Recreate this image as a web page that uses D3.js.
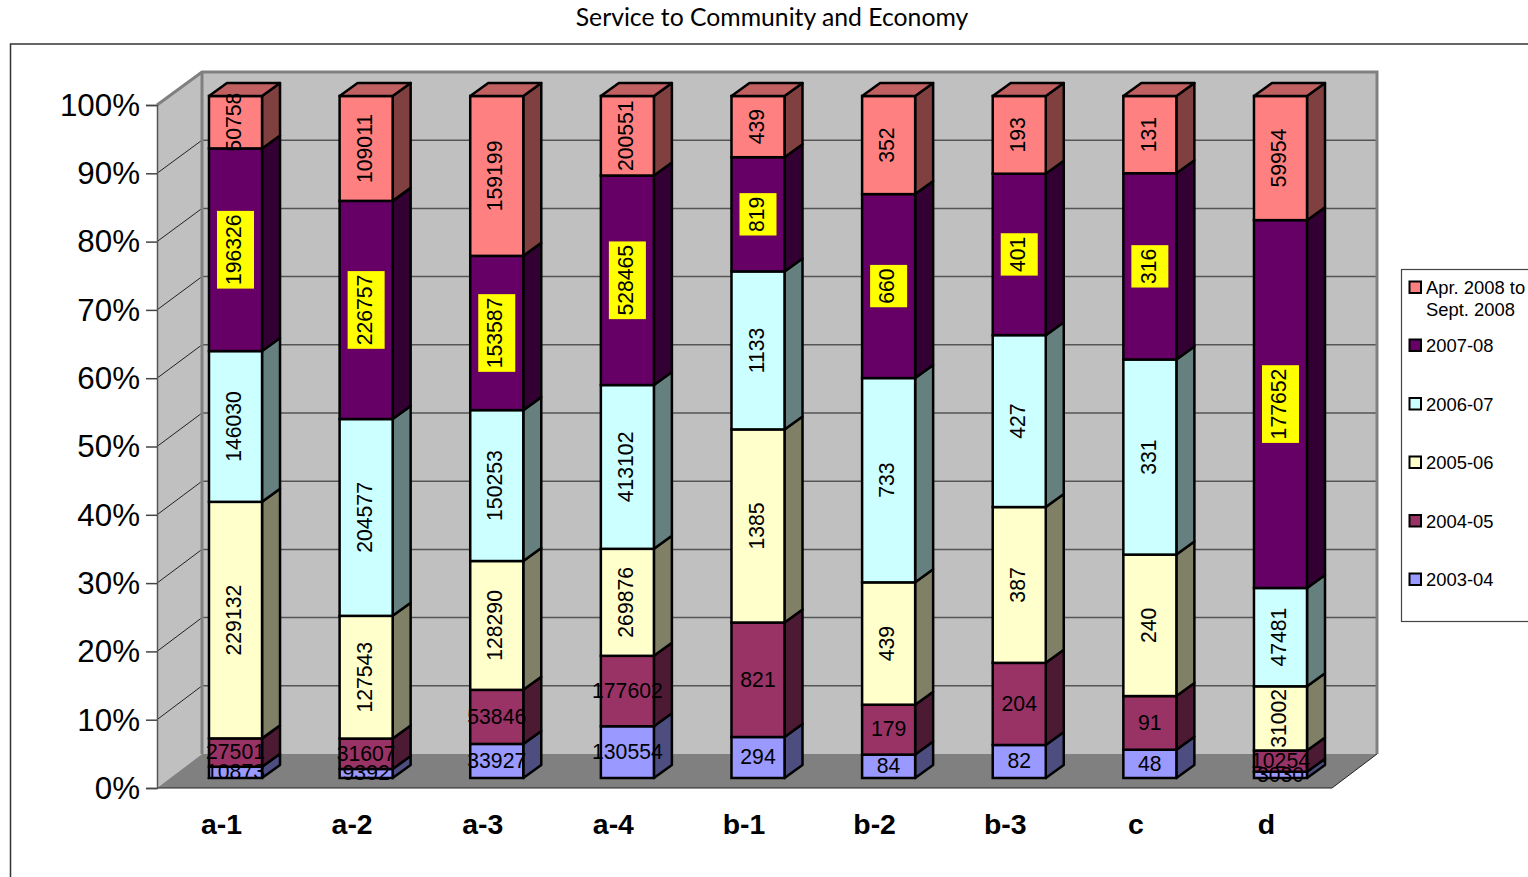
<!DOCTYPE html>
<html>
<head>
<meta charset="utf-8">
<script src="https://cdn.jsdelivr.net/npm/d3@7/dist/d3.min.js"></script>
<style>
  html, body { margin: 0; padding: 0; background: #fff; overflow: hidden; }
  svg { display: block; }
  text { font-family: "Liberation Sans", Arial, sans-serif; fill: #000; }
</style>
</head>
<body>
<svg id="chart" width="1528" height="877"></svg>
<script>
// Stacked share of each category across the reporting periods
const categories = ["a-1", "a-2", "a-3", "a-4", "b-1", "b-2", "b-3", "c", "d"];
const seriesNames = ["2003-04", "2004-05", "2005-06", "2006-07", "2007-08", "Apr. 2008 to Sept. 2008"];
const v2003 = [10873, 9392, 33927, 130554, 294, 84, 82, 48, 3030];
const v2004 = [27501, 31607, 53846, 177602, 821, 179, 204, 91, 10254];
const v2005 = [229132, 127543, 128290, 269876, 1385, 439, 387, 240, 31002];
const v2006 = [146030, 204577, 150253, 413102, 1133, 733, 427, 331, 47481];
const v2007 = [196326, 226757, 153587, 528465, 819, 660, 401, 316, 177652];
const v2008 = [50758, 109011, 159199, 200551, 439, 352, 193, 131, 59954];
const seriesValues = [v2003, v2004, v2005, v2006, v2007, v2008];
const faceColors = ["#9999FF", "#993366", "#FFFFCC", "#CCFFFF", "#660066", "#FF8080"];
const sideColors = ["#4D4D80", "#4D1A33", "#808066", "#668080", "#330033", "#804040"];
const topColor = "#C06060";
const percentTicks = [0, 0.1, 0.2, 0.3, 0.4, 0.5, 0.6, 0.7, 0.8, 0.9, 1];

const rows = categories.map((c, i) => {
  const row = { category: c };
  seriesNames.forEach((s, k) => { row[s] = seriesValues[k][i]; });
  return row;
});
const stacked = d3.stack().keys(seriesNames).offset(d3.stackOffsetExpand)(rows);

const svg = d3.select("#chart");

// Projection of the box: front plane, back wall and bar plane
const wallDepth = { x: 45, y: -34 };
const barDepth = { x: 18, y: -13 };
const frontY = d3.scaleLinear().domain([0, 1]).range([788, 105]);
const backY = d3.scaleLinear().domain([0, 1]).range([754, 72]);
const barY = d3.scaleLinear().domain([0, 1]).range([778, 96]);
const frontLeft = 157, frontRight = 1332;
const x = d3.scaleBand().domain(categories).range([170.2, 1345.8]).paddingInner(0.594).paddingOuter(0.297);
const pts = a => a.map(p => p.join(",")).join(" ");

// Outer frame, running past the right and bottom edges of the page
svg.append("rect").attr("x", 10.5).attr("y", 44).attr("width", 1600).attr("height", 900)
  .attr("fill", "#fff").attr("stroke", "#333").attr("stroke-width", 1.5);

svg.append("text").attr("x", 772).attr("y", 26).attr("text-anchor", "middle")
  .style("font-family", "Lato, 'Open Sans', sans-serif").style("font-size", "24.75px")
  .text("Service to Community and Economy");

// Walls and floor
const box = svg.append("g");
box.append("polygon")
  .attr("points", pts([[frontLeft, frontY(1)], [frontLeft + wallDepth.x, backY(1)], [frontLeft + wallDepth.x, backY(0)], [frontLeft, frontY(0)]]))
  .attr("fill", "#C0C0C0");
box.append("rect")
  .attr("x", frontLeft + wallDepth.x).attr("y", backY(1))
  .attr("width", frontRight - frontLeft).attr("height", backY(0) - backY(1))
  .attr("fill", "#C0C0C0");
box.append("polygon")
  .attr("points", pts([[frontLeft, frontY(0)], [frontLeft + wallDepth.x, backY(0)], [frontRight + wallDepth.x, backY(0)], [frontRight, frontY(0)]]))
  .attr("fill", "#808080");

box.selectAll("line.grid").data(percentTicks.slice(1, -1)).join("line")
  .attr("class", "grid")
  .attr("x1", frontLeft + wallDepth.x).attr("x2", frontRight + wallDepth.x)
  .attr("y1", d => backY(d)).attr("y2", d => backY(d))
  .attr("stroke", "#555").attr("stroke-width", 1.5);
box.selectAll("line.diag").data(percentTicks.slice(1, -1)).join("line")
  .attr("class", "diag")
  .attr("x1", frontLeft).attr("x2", frontLeft + wallDepth.x)
  .attr("y1", d => frontY(d)).attr("y2", d => backY(d))
  .attr("stroke", "#222").attr("stroke-width", 1);

// Grey edges of the walls
box.append("polyline")
  .attr("points", pts([[frontLeft, frontY(1)], [frontLeft + wallDepth.x, backY(1)], [frontRight + wallDepth.x, backY(1)], [frontRight + wallDepth.x, backY(0)]]))
  .attr("fill", "none").attr("stroke", "#808080").attr("stroke-width", 3);
box.append("line")
  .attr("x1", frontLeft + wallDepth.x).attr("x2", frontLeft + wallDepth.x)
  .attr("y1", backY(1)).attr("y2", backY(0))
  .attr("stroke", "#808080").attr("stroke-width", 3);
box.append("polyline")
  .attr("points", pts([[frontLeft, frontY(0)], [frontRight, frontY(0)], [frontRight + wallDepth.x, backY(0)]]))
  .attr("fill", "none").attr("stroke", "#222").attr("stroke-width", 1);

// Percentage axis along the front left edge
const yAxis = svg.append("g").attr("transform", `translate(${frontLeft},0)`)
  .call(d3.axisLeft(frontY).tickValues(percentTicks).tickSize(11).tickPadding(6).tickFormat(d3.format(".0%")));
yAxis.selectAll("line").attr("stroke", "#444").attr("stroke-width", 1.5);
yAxis.select(".domain").attr("stroke", "#555").attr("stroke-width", 1.5);
yAxis.selectAll("text").attr("dy", "0.33em").style("font-family", "'Liberation Sans', Arial, sans-serif").style("font-size", "31.3px").attr("fill", "#000");

// Stacked columns: one front face and side face per segment, top cap on the last
const bw = x.bandwidth();
const barStroke = { stroke: "#000", width: 2.5 };
const columns = svg.append("g").selectAll("g").data(categories).join("g");
columns.each(function (cat, ci) {
  const g = d3.select(this);
  const x0 = x(cat), x1 = x0 + bw;
  stacked.forEach((layer, k) => {
    const [a, b] = layer[ci];
    g.append("polygon")
      .attr("points", pts([[x1, barY(a)], [x1 + barDepth.x, barY(a) + barDepth.y], [x1 + barDepth.x, barY(b) + barDepth.y], [x1, barY(b)]]))
      .attr("fill", sideColors[k]).attr("stroke", barStroke.stroke).attr("stroke-width", barStroke.width).attr("stroke-linejoin", "round");
    g.append("rect")
      .attr("x", x0).attr("y", barY(b)).attr("width", bw).attr("height", barY(a) - barY(b))
      .attr("fill", faceColors[k]).attr("stroke", barStroke.stroke).attr("stroke-width", barStroke.width);
  });
  g.append("polygon")
    .attr("points", pts([[x0, barY(1)], [x0 + barDepth.x, barY(1) + barDepth.y], [x1 + barDepth.x, barY(1) + barDepth.y], [x1, barY(1)]]))
    .attr("fill", topColor).attr("stroke", barStroke.stroke).attr("stroke-width", barStroke.width).attr("stroke-linejoin", "round");
});

// Value labels: the two earliest periods read horizontally, the others upright,
// and the 2007-08 labels sit on a yellow plate
const labels = svg.append("g");
stacked.forEach((layer, k) => {
  categories.forEach((cat, ci) => {
    const [a, b] = layer[ci];
    const cx = x(cat) + bw / 2;
    const cy = barY((a + b) / 2);
    const g = labels.append("g").attr("transform", `translate(${cx},${cy})` + (k >= 2 ? " rotate(-90)" : ""));
    const t = g.append("text")
      .attr("text-anchor", "middle").attr("dy", k >= 2 ? "0.27em" : "0.32em")
      .style("font-size", "21.2px")
      .text(seriesValues[k][ci]);
    if (k === 4) {
      const len = t.node().getComputedTextLength();
      g.insert("rect", "text")
        .attr("x", -len / 2 - 3.5).attr("y", -18.5)
        .attr("width", len + 7).attr("height", 37)
        .attr("fill", "#FFFF00");
    }
  });
});

// Category names under the floor
svg.append("g").selectAll("text").data(categories).join("text")
  .attr("x", d => x(d) + bw / 2 - 14).attr("y", 834)
  .attr("text-anchor", "middle")
  .style("font-size", "28.4px").style("font-weight", "bold")
  .text(d => d);

// Legend, newest period first; the box continues past the page edge
const legend = svg.append("g");
legend.append("rect").attr("x", 1401.5).attr("y", 269.5).attr("width", 200).attr("height", 352)
  .attr("fill", "#fff").attr("stroke", "#444").attr("stroke-width", 1.2);
const legendRowY = d3.scalePoint().domain(d3.range(5)).range([345, 579]);
const legendRows = [
  { k: 5, cy: 287, lines: ["Apr. 2008 to", "Sept. 2008"] },
  { k: 4, cy: legendRowY(0), lines: [seriesNames[4]] },
  { k: 3, cy: legendRowY(1), lines: [seriesNames[3]] },
  { k: 2, cy: legendRowY(2), lines: [seriesNames[2]] },
  { k: 1, cy: legendRowY(3), lines: [seriesNames[1]] },
  { k: 0, cy: legendRowY(4), lines: [seriesNames[0]] }
];
legendRows.forEach(r => {
  legend.append("rect").attr("x", 1409.5).attr("y", r.cy - 5.5).attr("width", 11.5).attr("height", 11.5)
    .attr("fill", faceColors[r.k]).attr("stroke", "#000").attr("stroke-width", 2);
  r.lines.forEach((line, i) => {
    legend.append("text").attr("x", 1426).attr("y", r.cy + 7 + i * 22)
      .style("font-size", "18.4px").text(line);
  });
});
</script>
</body>
</html>
